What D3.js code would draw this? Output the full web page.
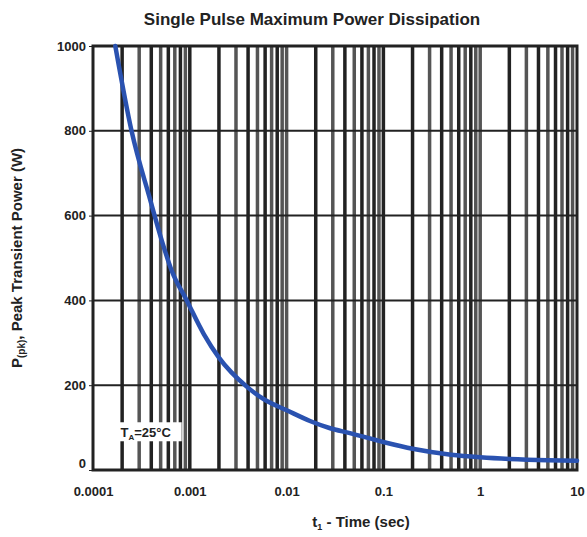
<!DOCTYPE html>
<html>
<head>
  <title>Single Pulse Maximum Power Dissipation</title>
  <script src="https://d3js.org/d3.v7.min.js"></script>
  <style>
    body { margin: 0; background: #fff; }
    text { font-family: "Liberation Sans", Arial, sans-serif; }
  </style>
</head>
<body>
<div id="chart"></div>
<script>
  // curve: pulse time (s) vs peak power (W)
  const pulseTime = [0.00017, 0.00025, 0.00039, 0.0005, 0.00065, 0.00093, 0.0014, 0.002, 0.0039, 0.006, 0.01, 0.0177, 0.0277, 0.045, 0.1, 0.2, 0.5, 1, 2, 5, 10];
  const peakPower = [1000, 800, 637, 550, 470, 400, 320, 265, 196, 165, 141, 115, 99, 87, 66, 50, 36, 30, 26, 23, 22];
  const xTicks = [0.0001, 0.001, 0.01, 0.1, 1, 10];
  const xTickLabels = ["0.0001", "0.001", "0.01", "0.1", "1", "10"];
  const yTicks = [0, 200, 400, 600, 800, 1000];

  const width = 587;
  const height = 537;
  const margin = {top: 46, right: 10, bottom: 67, left: 93};

  const svg = d3.select("#chart")
          .append("svg")
          .attr("width", width)
          .attr("height", height);

  const x = d3.scaleLog()
          .domain([0.0001, 10])
          .range([margin.left, width - margin.right]);

  const y = d3.scaleLinear()
          .domain([0, 1000])
          .range([height - margin.bottom, margin.top]);

  // minor vertical grid (2..9 of every decade)
  const minor = [];
  for (let e = -4; e < 1; e++) {
    for (let m = 2; m <= 9; m++) minor.push(m * Math.pow(10, e));
  }
  svg.append("g")
          .selectAll("line")
          .data(minor.concat(xTicks.slice(1, -1)))
          .join("line")
          .attr("x1", d => x(d))
          .attr("x2", d => x(d))
          .attr("y1", y(1000))
          .attr("y2", y(0))
          .attr("stroke", (d, i) => i % 2 ? "#555" : "#222")
          .attr("stroke-width", 3.5);

  // horizontal grid
  svg.append("g")
          .selectAll("line")
          .data(yTicks.slice(1, -1))
          .join("line")
          .attr("x1", x(0.0001))
          .attr("x2", x(10))
          .attr("y1", d => y(d))
          .attr("y2", d => y(d))
          .attr("stroke", "#222")
          .attr("stroke-width", 2);

  // frame
  svg.append("rect")
          .attr("x", x(0.0001))
          .attr("y", y(1000))
          .attr("width", x(10) - x(0.0001))
          .attr("height", y(0) - y(1000))
          .attr("fill", "none")
          .attr("stroke", "#222")
          .attr("stroke-width", 3);

  // axes
  const xAxis = svg.append("g")
          .attr("transform", `translate(0,${y(0)})`)
          .call(d3.axisBottom(x).tickValues(xTicks)
                  .tickFormat((d, i) => xTickLabels[i]).tickSize(0).tickPadding(17));
  const yAxis = svg.append("g")
          .attr("transform", `translate(${x(0.0001)},0)`)
          .call(d3.axisLeft(y).tickValues(yTicks).tickFormat(d3.format("d"))
                  .tickSize(4).tickPadding(3));
  [xAxis, yAxis].forEach(a => {
    a.select(".domain").remove();
    a.selectAll("text").attr("font-size", 13).attr("font-weight", "bold")
            .attr("fill", "#222").style("font-family", "'Liberation Sans', Arial, sans-serif");
    a.selectAll("line").attr("stroke", "#222");
  });
  yAxis.selectAll(".tick text").attr("dy", (d) => d === 0 ? "-0.2em" : "0.32em");

  // curve
  const line = d3.line()
          .x((d, i) => x(pulseTime[i]))
          .y(d => y(d))
          .curve(d3.curveMonotoneX);
  svg.append("path")
          .datum(peakPower)
          .attr("d", line)
          .attr("fill", "none")
          .attr("stroke", "#2a52b0")
          .attr("stroke-width", 4.5)
          .attr("stroke-linecap", "round");

  // annotation
  const ann = svg.append("g").attr("transform", `translate(${x(0.00035)},${y(89)})`);
  ann.append("rect")
          .attr("x", -36).attr("y", -10).attr("width", 72).attr("height", 19)
          .attr("fill", "#fff");
  const at = ann.append("text")
          .attr("text-anchor", "middle")
          .attr("dy", "0.35em")
          .attr("font-size", 13)
          .attr("font-weight", "bold")
          .attr("fill", "#222");
  at.append("tspan").text("T");
  at.append("tspan").attr("font-size", 8).attr("dy", "3").text("A");
  at.append("tspan").attr("dy", "-3").text("=25°C");

  // titles
  svg.append("text")
          .attr("x", 312)
          .attr("y", 25)
          .attr("text-anchor", "middle")
          .attr("font-size", 17)
          .attr("font-weight", "bold")
          .attr("fill", "#222")
          .text("Single Pulse Maximum Power Dissipation");

  const xl = svg.append("text")
          .attr("x", 361)
          .attr("y", 527)
          .attr("text-anchor", "middle")
          .attr("font-size", 15)
          .attr("font-weight", "bold")
          .attr("fill", "#222");
  xl.append("tspan").text("t");
  xl.append("tspan").attr("font-size", 9).attr("dy", "3").text("1");
  xl.append("tspan").attr("dy", "-3").text(" - Time (sec)");

  const yl = svg.append("text")
          .attr("transform", `translate(22,${(y(0) + y(1000)) / 2}) rotate(-90)`)
          .attr("text-anchor", "middle")
          .attr("font-size", 15)
          .attr("font-weight", "bold")
          .attr("fill", "#222");
  yl.append("tspan").text("P");
  yl.append("tspan").attr("font-size", 10).attr("dy", "3").text("(pk)");
  yl.append("tspan").attr("dy", "-3").text(", Peak Transient Power (W)");
</script>
</body>
</html>
